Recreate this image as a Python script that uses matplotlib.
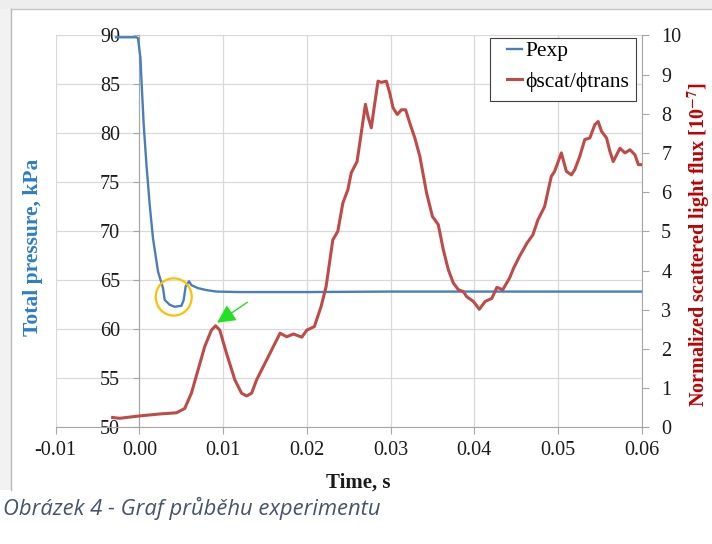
import matplotlib
matplotlib.use("Agg")
import matplotlib.pyplot as plt
from matplotlib.patches import Rectangle, Ellipse
from matplotlib.lines import Line2D

# ---------------- data ----------------
t_pexp = [-0.0028, -0.0010, -0.00036, -0.00017, 0.00012, 0.00027, 0.00051, 0.00084,
          0.00123, 0.00162, 0.00222, 0.00282, 0.00302, 0.00362, 0.00422, 0.00502,
          0.00529, 0.00553, 0.00593, 0.00621, 0.0070, 0.0080, 0.0092, 0.0120,
          0.0200, 0.0300, 0.0400, 0.0500, 0.0600]
p_pexp = [89.8, 89.8, 89.8, 89.7, 87.7, 85.0, 80.9, 76.8,
          72.7, 69.3, 65.9, 64.2, 63.0, 62.5, 62.3, 62.4,
          63.0, 64.4, 64.9, 64.5, 64.2, 64.0, 63.85, 63.8,
          63.8, 63.85, 63.85, 63.85, 63.85]

t_scat = [-0.0032, -0.00235, 0.0, 0.00243, 0.00442, 0.00541, 0.00621, 0.0070, 0.0078,
          0.0086, 0.0091, 0.0096, 0.0104, 0.0114, 0.0122, 0.0128, 0.0134, 0.0140,
          0.0152, 0.0164, 0.0168, 0.0176, 0.0184, 0.0194, 0.0200, 0.0209, 0.0217,
          0.0223, 0.0231, 0.0237, 0.0243, 0.0249, 0.0253, 0.0260, 0.0265, 0.0270,
          0.0273, 0.0277, 0.0280, 0.0285, 0.0289, 0.0295, 0.0299, 0.0303, 0.0308,
          0.0313, 0.0318, 0.0323, 0.0329, 0.0335, 0.0343, 0.0350, 0.0357, 0.0363,
          0.0369, 0.0375, 0.0381, 0.0387, 0.0391, 0.0399, 0.0406, 0.0413, 0.0421,
          0.0427, 0.0434, 0.0442, 0.0447, 0.0454, 0.0463, 0.0470, 0.0476, 0.0484,
          0.0492, 0.0496, 0.0504, 0.0510, 0.0516, 0.0520, 0.0526, 0.0532, 0.0538,
          0.0544, 0.0548, 0.0552, 0.0558, 0.0562, 0.0566, 0.0574, 0.0580, 0.0586,
          0.0592, 0.0596, 0.0600]
r_scat = [0.25, 0.23, 0.29, 0.34, 0.37, 0.48, 0.87, 1.46, 2.06,
          2.48, 2.59, 2.48, 1.89, 1.21, 0.87, 0.80, 0.87, 1.21,
          1.72, 2.23, 2.40, 2.31, 2.38, 2.30, 2.48, 2.57, 3.08,
          3.59, 4.78, 5.00, 5.72, 6.06, 6.49, 6.78, 7.51, 8.24,
          7.93, 7.64, 8.10, 8.83, 8.80, 8.83, 8.53, 8.15, 7.98,
          8.10, 8.10, 7.76, 7.38, 6.91, 5.98, 5.38, 5.17, 4.53,
          4.02, 3.68, 3.51, 3.46, 3.33, 3.21, 3.01, 3.21, 3.29,
          3.57, 3.51, 3.80, 4.06, 4.36, 4.70, 4.91, 5.29, 5.63,
          6.40, 6.53, 7.00, 6.53, 6.44, 6.57, 6.91, 7.34, 7.38,
          7.72, 7.80, 7.55, 7.38, 7.04, 6.78, 7.12, 7.00, 7.08,
          6.95, 6.70, 6.70]

x_ticks = [-0.01, 0.00, 0.01, 0.02, 0.03, 0.04, 0.05, 0.06]
x_tick_labels = ["-0.01", "0.00", "0.01", "0.02", "0.03", "0.04", "0.05", "0.06"]
p_ticks = [50, 55, 60, 65, 70, 75, 80, 85, 90]
r_ticks = [0, 1, 2, 3, 4, 5, 6, 7, 8, 9, 10]

series_names = ["Pexp", "\u03d5scat/\u03d5trans"]
x_label = "Time, s"
y_label = "Total pressure, kPa"
y2_label = r"Normalized scattered light flux [10$^{\mathbf{-7}}$]"
caption = "Obrázek 4 - Graf průběhu experimentu"

# circled region and arrow target
circle_center = (0.0041, 63.3)
arrow_tip = (0.00927, 60.67)
arrow_tail = (0.0129, 62.76)

# ---------------- styling ----------------
plt.rcParams['font.family'] = ['Liberation Serif', 'DejaVu Serif']
plt.rcParams['mathtext.fontset'] = 'stix'

BLUE = '#4a7ebb'
RED = '#be4b48'
GRID = '#d9d9d9'
AXC = '#a6a6a6'

W, H = 712, 544
fig = plt.figure(figsize=(W / 100, H / 100), dpi=100)
fig.patch.set_facecolor('white')

def fx(px):
    return px / W

def fy(py):
    return 1 - py / H

# screenshot frame: grey bands and chart-area border
fig.add_artist(Rectangle((0, fy(9)), 1, 9 / H, transform=fig.transFigure,
                         facecolor='#eeeeee', edgecolor='none', zorder=-10))
fig.add_artist(Rectangle((0, fy(490)), fx(11), (490 - 9) / H, transform=fig.transFigure,
                         facecolor='#f2f2f2', edgecolor='none', zorder=-10))
fig.add_artist(Line2D([fx(11), 1], [fy(9), fy(9)], transform=fig.transFigure,
                      color='#c6c6c6', lw=1.0, zorder=-5))
fig.add_artist(Line2D([fx(11), fx(11)], [fy(9), fy(490)], transform=fig.transFigure,
                      color='#b8b8b8', lw=1.0, zorder=-5))

ax_left, ax_right, ax_top, ax_bot = 55.7, 641.7, 35.3, 427.3
ax = fig.add_axes([fx(ax_left), fy(ax_bot), (ax_right - ax_left) / W, (ax_bot - ax_top) / H])
ax.patch.set_alpha(0)
ax2 = ax.twinx()

ax.set_xlim(-0.01, 0.06)
ax.set_ylim(50, 90)
ax2.set_ylim(0, 10)

ax.set_xticks(x_ticks)
ax.set_xticklabels(x_tick_labels)
ax.set_yticks(p_ticks)
ax2.set_yticks(r_ticks)

ax.grid(True, color=GRID, lw=0.9)
ax.set_axisbelow(True)

for s in ['top', 'right']:
    ax.spines[s].set_visible(False)
ax.spines['left'].set_position(('data', 0.0))
ax.spines['left'].set_color(AXC)
ax.spines['bottom'].set_color(AXC)
for s in ['top', 'left', 'bottom']:
    ax2.spines[s].set_visible(False)
ax2.spines['right'].set_color(AXC)

ax.tick_params(axis='x', direction='out', length=5, width=0.8, color=AXC,
               labelsize=14.5, pad=5, labelcolor='#1a1a1a')
ax.tick_params(axis='y', direction='out', length=4, width=0.8, color=AXC,
               labelsize=14.5, pad=10, labelcolor='#1a1a1a')
ax2.tick_params(axis='y', direction='out', length=5, width=0.8, color=AXC,
                labelsize=14.5, pad=9, labelcolor='#1a1a1a')

l1, = ax.plot(t_pexp, p_pexp, color=BLUE, lw=1.7, solid_joinstyle='round', zorder=3)
l2, = ax2.plot(t_scat, r_scat, color=RED, lw=2.2, solid_joinstyle='round', zorder=3)

# annotations
ax.add_patch(Ellipse(circle_center, 0.0043, 3.8, facecolor='none',
                     edgecolor='#ffc000', lw=1.6, zorder=5))
ax.annotate('', xy=arrow_tip, xytext=arrow_tail,
            arrowprops=dict(arrowstyle='-|>', color='#22e022', lw=1.0,
                            mutation_scale=28, shrinkA=0, shrinkB=0), zorder=6)

# legend (frame drawn separately to match the box)
fig.add_artist(Rectangle((fx(490), fy(101)), (636 - 490) / W, (101 - 38) / H,
                         transform=fig.transFigure, facecolor='white',
                         edgecolor='#404040', lw=0.8, zorder=8))
leg = fig.legend([l1, l2], series_names, loc='upper left',
                 bbox_to_anchor=(fx(507), fy(41)), bbox_transform=fig.transFigure,
                 frameon=False, fontsize=15.5,
                 handlelength=0.7, handletextpad=0.15, borderpad=0,
                 labelspacing=0.5, borderaxespad=0)
leg.set_zorder(9)

# axis titles
fig.text(fx(358), fy(483), x_label, ha='center', va='center',
         fontsize=15, fontweight='bold', color='#1a1a1a')
fig.text(fx(33), fy(247), y_label, ha='center', va='center', rotation=90,
         fontsize=15.5, fontweight='bold', color='#2b7fc6')
fig.text(fx(699), fy(245), y2_label, ha='center', va='center', rotation=90,
         fontsize=14.5, fontweight='bold', color='#c00000')

# caption
fig.text(fx(3), fy(515), caption, ha='left', va='baseline', fontsize=15.8,
         style='italic', family=['Open Sans', 'DejaVu Sans'], color='#44546a')

fig.savefig('out.png', dpi=100, facecolor='white')
